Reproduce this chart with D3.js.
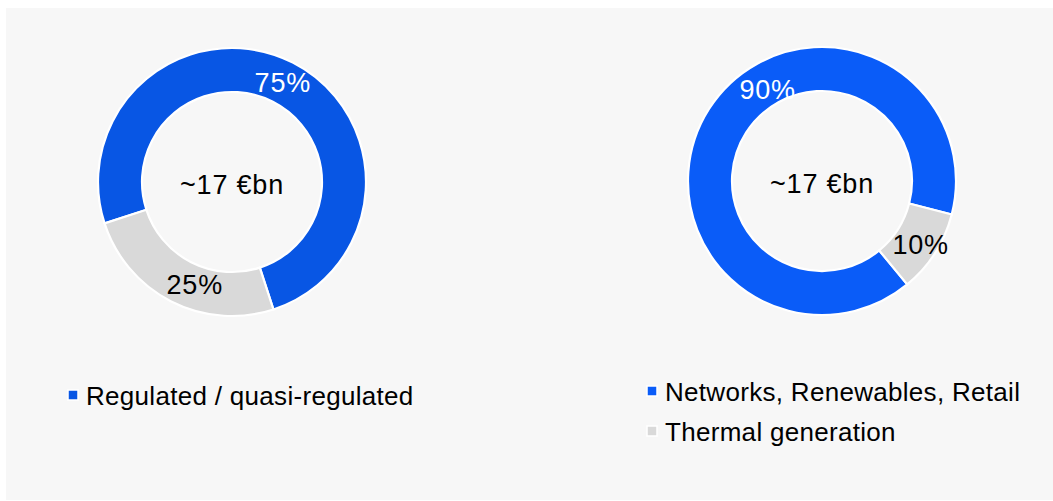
<!DOCTYPE html>
<html>
<head>
<meta charset="utf-8">
<script src="https://cdn.jsdelivr.net/npm/d3@7"></script>
<style>
  html, body { margin: 0; padding: 0; background: #ffffff; }
  svg { display: block; }
  text { font-family: "Liberation Sans", Arial, sans-serif; }
</style>
</head>
<body>
<svg id="chart" width="1053" height="501"></svg>
<script>
// ---- data ----
const leftCategories = ["Regulated / quasi-regulated", "Other"];
const leftValues = [75, 25];
const leftLabels = ["75%", "25%"];
const leftTotal = "~17 €bn";
const leftLegend = ["Regulated / quasi-regulated"];

const rightCategories = ["Networks, Renewables, Retail", "Thermal generation"];
const rightValues = [90, 10];
const rightLabels = ["90%", "10%"];
const rightTotal = "~17 €bn";
const rightLegend = ["Networks, Renewables, Retail", "Thermal generation"];

const svg = d3.select("#chart");
const W = 1053, H = 501;

// background panel
svg.append("rect").attr("x", 6).attr("y", 8).attr("width", W - 6).attr("height", H - 9)
  .attr("fill", "#f7f7f7");

const rad = d => d * Math.PI / 180;

function donut(cfg) {
  const g = svg.append("g").attr("transform", `translate(${cfg.cx},${cfg.cy})`);
  const color = d3.scaleOrdinal().domain(cfg.categories).range(cfg.colors);
  const pie = d3.pie().sort(null).value(d => d.v)
    .startAngle(rad(cfg.start)).endAngle(rad(cfg.start + 360));
  const data = cfg.categories.map((c, i) => ({ c, v: cfg.values[i], label: cfg.labels[i] }));
  const arcs = pie(data);
  const arc = d3.arc().innerRadius(cfg.inner).outerRadius(cfg.outer);
  g.selectAll("path.seg").data(arcs).join("path")
    .attr("class", "seg")
    .attr("d", arc)
    .attr("fill", d => color(d.data.c))
    .attr("stroke", "#ffffff")
    .attr("stroke-width", 2.2)
    .attr("stroke-linejoin", "miter");
  // labels: centroid direction with small angular nudge
  const ang = (d, i) => (d.startAngle + d.endAngle) / 2 + rad(cfg.labelNudge[i]);
  g.selectAll("text.lbl").data(arcs).join("text")
    .attr("class", "lbl")
    .attr("x", (d, i) => Math.sin(ang(d, i)) * cfg.labelR[i])
    .attr("y", (d, i) => -Math.cos(ang(d, i)) * cfg.labelR[i])
    .attr("dy", "0.36em")
    .attr("text-anchor", "middle")
    .attr("font-size", 27)
    .attr("letter-spacing", 0.8)
    .attr("fill", (d, i) => cfg.labelColors[i])
    .text(d => d.data.label);
  g.append("text")
    .attr("x", 0).attr("y", 12)
    .attr("text-anchor", "middle")
    .attr("font-size", 27)
    .attr("letter-spacing", 0.8)
    .attr("fill", "#000")
    .text(cfg.total);
}

donut({
  cx: 232, cy: 182, inner: 90, outer: 134, start: -108,
  categories: leftCategories, values: leftValues, labels: leftLabels,
  colors: ["#0856e4", "#d9d9d9"], labelColors: ["#ffffff", "#000000"],
  labelR: [112, 109], labelNudge: [0, -7], total: leftTotal
});
donut({
  cx: 822, cy: 181, inner: 90, outer: 134, start: 140.5,
  categories: rightCategories, values: rightValues, labels: rightLabels,
  colors: ["#0a5cf8", "#d9d9d9"], labelColors: ["#ffffff", "#000000"],
  labelR: [107, 117], labelNudge: [27, 0], total: rightTotal
});

// legends
function legend(x, y, items, colors, gap) {
  const g = svg.append("g").attr("transform", `translate(${x},${y})`);
  const rows = g.selectAll("g").data(items).join("g")
    .attr("transform", (d, i) => `translate(0,${i * gap})`);
  rows.append("rect").attr("x", 0).attr("y", -6).attr("width", 10).attr("height", 10)
    .attr("fill", (d, i) => colors[i]).attr("stroke", "#ffffff").attr("stroke-width", 1.5);
  rows.append("text").attr("x", 18).attr("y", 0).attr("dy", "0.34em")
    .attr("font-size", 26).attr("letter-spacing", 0.3).attr("fill", "#000").text(d => d);
}
legend(68, 396, leftLegend, ["#0856e4"], 40);
legend(647, 392, rightLegend, ["#0a5cf8", "#d9d9d9"], 40);
</script>
</body>
</html>
